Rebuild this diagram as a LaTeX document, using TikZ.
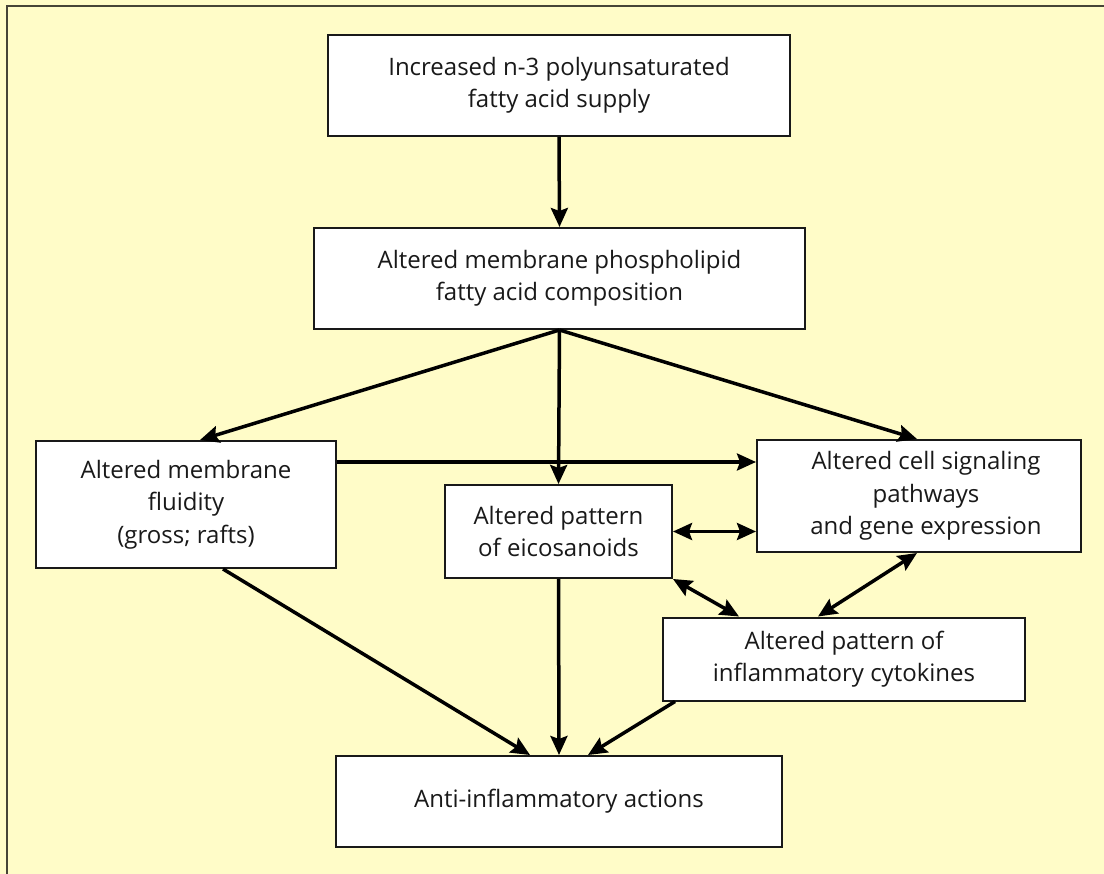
\documentclass[tikz,border=0pt]{standalone}
\usepackage{fontspec}
\setmainfont{Open Sans}
\usetikzlibrary{arrows.meta}
\definecolor{bgc}{RGB}{255,252,200}
\definecolor{framec}{RGB}{70,68,55}
\tikzset{
  box/.style={draw=black!90, line width=2pt, fill=white, align=center, inner sep=0pt,
    font=\fontsize{24}{32.5}\selectfont, text=black!90},
  arr/.style={line width=3.5pt, -{Stealth[length=19pt,width=17pt,inset=3pt]}},
  darr/.style={line width=3.5pt, {Stealth[length=19pt,width=17pt,inset=3pt]}-{Stealth[length=19pt,width=17pt,inset=3pt]}}
}
\begin{document}
\begin{tikzpicture}[x=1pt,y=-1pt]
\fill[bgc] (0,0) rectangle (1104,874);
\useasboundingbox (0,0) rectangle (1104,874);
\coordinate (fa) at (7,874);
\coordinate (fb) at (7,6);
\coordinate (fc) at (1104,6);
\draw[framec, line width=2.2pt] (fa) -- (fb) -- (fc);

\node[box, minimum width=462pt, minimum height=101pt] (top) at (559,85.5)
  {Increased n-3 polyunsaturated\\fatty acid supply};
\node[box, minimum width=491pt, minimum height=101pt] (comp) at (559.5,278.5)
  {Altered membrane phospholipid\\fatty acid composition};
\node[box, minimum width=300pt, minimum height=127pt] (fluid) at (186,504.5)
  {Altered membrane\\fluidity\\(gross; rafts)};
\node[box, minimum width=227pt, minimum height=93pt] (eico) at (558.5,531.5)
  {Altered pattern\\of eicosanoids};
\node[box, minimum width=324pt, minimum height=112pt] (sig) at (919,496)
  {\hspace*{14pt}Altered cell signaling\\\hspace*{14pt}pathways\\\hspace*{14pt}and gene expression};
\node[box, minimum width=362pt, minimum height=83pt] (cyto) at (844,659)
  {Altered pattern of\\inflammatory cytokines};
\node[box, minimum width=446pt, minimum height=91pt] (anti) at (559,801.5)
  {Anti-inflammatory actions};

\draw[arr] (top.south) -- (comp.north);
\draw[arr] (comp.south) -- ([xshift=14pt]fluid.north);
\draw[arr] (comp.south) -- (eico.north);
\draw[arr] (comp.south) -- ([xshift=-2pt]sig.north);
\coordinate (f1) at ([yshift=42.5pt]fluid.east);
\draw[arr] (f1) -- (f1 -| sig.west);
\draw[darr] (eico.east) -- (eico.east -| sig.west);
\draw[darr] (eico.south east) -- ([xshift=-105pt]cyto.north);
\draw[darr] ([xshift=-2pt]sig.south) -- ([xshift=-26pt]cyto.north);
\draw[arr] ([xshift=37pt]fluid.south) -- ([xshift=-29pt]anti.north);
\draw[arr] (eico.south) -- (anti.north);
\draw[arr] ([xshift=-169pt]cyto.south) -- ([xshift=29pt]anti.north);
\end{tikzpicture}
\end{document}
